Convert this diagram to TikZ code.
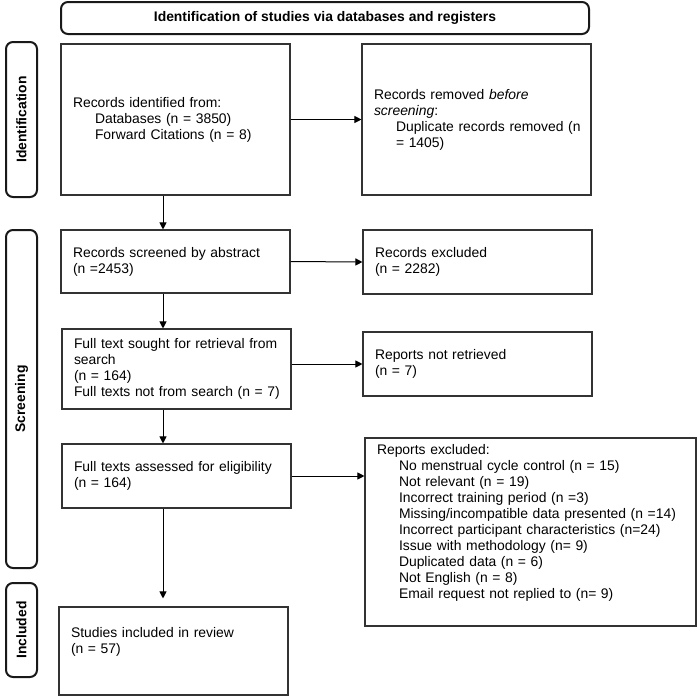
\documentclass[tikz,border=0pt]{standalone}
\usepackage{fontspec}
\setmainfont{Liberation Sans}
\usetikzlibrary{arrows.meta,calc}
\begin{document}
\begin{tikzpicture}[x=1pt,y=-1pt,
  box/.style={draw=black!80, line width=1.1pt, rectangle, inner xsep=12pt, inner ysep=0pt, align=left, font=\fontsize{13.9}{16}\selectfont},
  side/.style={draw=black!90, line width=2pt, rounded corners=7pt, inner sep=0pt, font=\bfseries\fontsize{13.9}{16}\selectfont},
  arr/.style={draw=black, line width=1pt, -{Triangle[length=7pt,width=7pt]}}
]
\useasboundingbox (0,0) rectangle (699,697);
\newcommand\ind{\hspace*{22pt}}
\newcommand\nw[1]{\mbox{#1}}

% header
\node[side, minimum width=528pt, minimum height=32pt] (hdr) at (325,18) {Identification of studies via databases and registers};

% side labels
\node[side, rotate=90, minimum width=155pt, minimum height=31pt] (sI) at (21.5,119.5) {Identification};
\node[side, rotate=90, minimum width=338pt, minimum height=31pt] (sS) at (21.5,399) {Screening};
\node[side, rotate=90, minimum width=94pt, minimum height=31pt] (sN) at (21.5,630) {Included};

% boxes
\node[box, text width=205pt, minimum height=151pt] (b1) at (175.5,119.5)
  {Records identified from:\\\ind Databases (n = 3850)\\\ind Forward Citations (n = 8)};
\node[box, text width=205pt, minimum height=151pt] (b2) at (476.5,119.5)
  {\nw{Records removed \emph{before}}\\\nw{\emph{screening}:}\\\ind\nw{Duplicate records removed (n}\\\ind\nw{= 1405)}};
\node[box, text width=205pt, minimum height=63pt] (b3) at (175.5,261.5)
  {Records screened by abstract\\(n =2453)};
\node[box, text width=205pt, minimum height=64pt] (e3) at (477.5,262)
  {Records excluded\\(n = 2282)};
\node[box, text width=205pt, minimum height=80pt] (b4) at (176.5,369)
  {\nw{Full text sought for retrieval from}\\search\\(n = 164)\\\nw{Full texts not from search (n = 7)}};
\node[box, text width=205pt, minimum height=64pt] (rn) at (477.5,364)
  {Reports not retrieved\\(n = 7)};
\node[box, text width=205pt, minimum height=64pt] (b5) at (176.5,476)
  {\nw{Full texts assessed for eligibility}\\(n = 164)};
\node[box, text width=307pt, minimum height=188pt] (ex) at (530.5,532)
  {Reports excluded:\\
   \ind No menstrual cycle control (n = 15)\\
   \ind Not relevant (n = 19)\\
   \ind Incorrect training period (n =3)\\
   \ind\nw{Missing/incompatible data presented (n =14)}\\
   \ind\nw{Incorrect participant characteristics (n=24)}\\
   \ind Issue with methodology (n= 9)\\
   \ind Duplicated data (n = 6)\\
   \ind Not English (n = 8)\\
   \ind Email request not replied to (n= 9)\\\strut};
\node[box, text width=205pt, minimum height=88pt] (b6) at (173.5,651)
  {Studies included in review\\(n = 57)\\\strut};

% connectors
\coordinate (ax) at (163,0);
\draw[arr] (b1.south -| ax) -- (b3.north -| ax);
\draw[arr] (b3.south -| ax) -- (b4.north -| ax);
\draw[arr] (b4.south -| ax) -- (b5.north -| ax);
\draw[arr, shorten >=8pt] (b5.south -| ax) -- (b6.north -| ax);
\draw[arr] (b1.east) -- (b2.west);
\draw[arr] (b3.east) -- (e3.west);
\draw[arr] (b4.east |- rn.west) -- (rn.west);
\draw[arr] (b5.east) -- (b5.east -| ex.west);
\end{tikzpicture}
\end{document}
